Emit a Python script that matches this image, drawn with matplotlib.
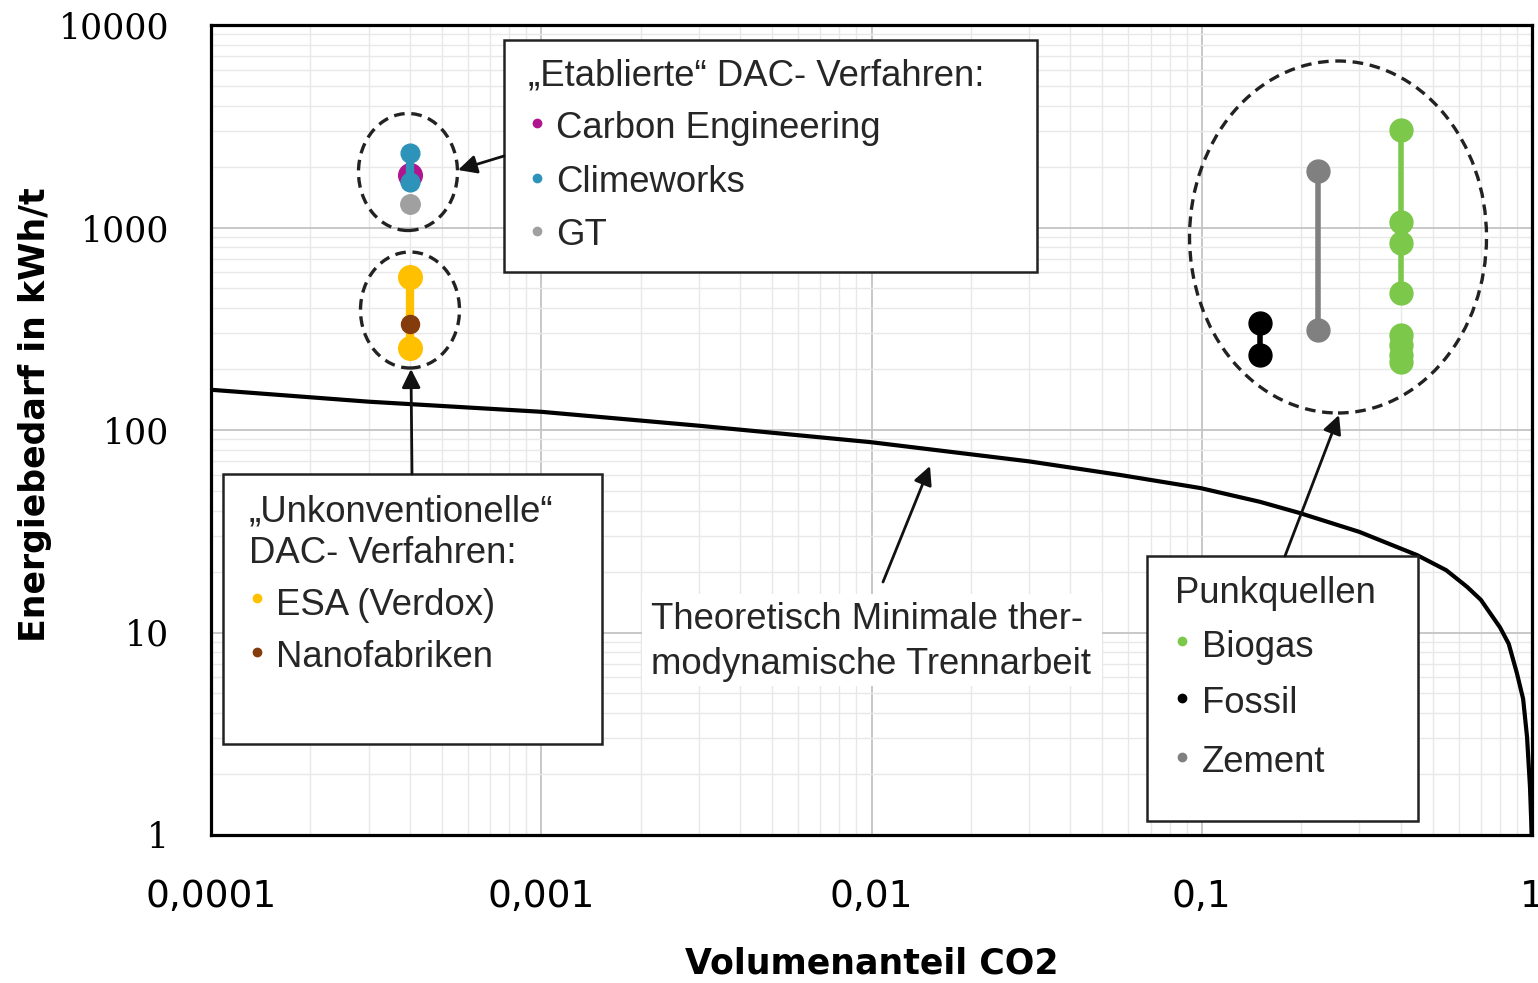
import matplotlib
matplotlib.use('Agg')
import matplotlib.pyplot as plt
from matplotlib import font_manager
from matplotlib.patches import Ellipse, Rectangle
from matplotlib.ticker import LogLocator, NullFormatter, FixedLocator, FixedFormatter

# --- data ---
x_ticks = [1e-4, 1e-3, 1e-2, 1e-1, 1]
x_tick_labels = ['0,0001', '0,001', '0,01', '0,1', '1']
y_ticks = [1, 10, 100, 1000, 10000]
y_tick_labels = ['1', '10', '100', '1000', '10000']

# theoretical minimum separation work
curve_x = [0.0001, 0.0003, 0.001, 0.003, 0.01, 0.03, 0.0565, 0.0989, 0.15,
           0.198, 0.30, 0.449, 0.55, 0.636, 0.70, 0.80, 0.85, 0.90, 0.94,
           0.966, 0.986, 0.994, 0.999]
curve_y = [158, 138, 123, 105, 87, 70, 60, 51.7, 44.2,
           38.9, 31.4, 24.1, 20.3, 16.8, 14.5, 10.6, 8.8, 6.3, 4.7,
           3.05, 1.73, 1.2, 0.9]

dac_x = 0.0004
gt_y = [1300]
carbon_eng_y = [1820]
climeworks_y = [2330, 1680]
esa_y = [570, 255]
nano_y = [335]

fossil_x = 0.15
fossil_y = [338, 235]
zement_x = 0.225
zement_y = [1900, 312]
biogas_x = 0.40
biogas_upper_y = [3030, 1063, 840, 475]
biogas_lower_y = [294, 263, 235, 217]

col_ce = '#B0158F'
col_cw = '#2E93B8'
col_gt = '#A0A0A0'
col_esa = '#FFC000'
col_nano = '#843C0C'
col_bio = '#7CC84A'
col_fossil = '#000000'
col_zement = '#808080'

installed = {f.name for f in font_manager.fontManager.ttflist}
narrow = 'Liberation Sans Narrow' if 'Liberation Sans Narrow' in installed else 'DejaVu Sans'
sans = 'Liberation Sans'
serif = 'DejaVu Serif'

W, H = 1538, 983
AX_L, AX_R, AX_T, AX_B = 211, 1532, 25, 835

def af(px, py):
    # image pixel (top-left origin) -> axes fraction
    return ((px - AX_L) / (AX_R - AX_L), (AX_B - py) / (AX_B - AX_T))

fig = plt.figure(figsize=(W / 100, H / 100), dpi=100)
ax = fig.add_axes([AX_L / W, 1 - AX_B / H, (AX_R - AX_L) / W, (AX_B - AX_T) / H])
ax.set_xscale('log')
ax.set_yscale('log')
ax.set_xlim(1e-4, 1)
ax.set_ylim(1, 10000)

ax.xaxis.set_major_locator(FixedLocator(x_ticks))
ax.xaxis.set_major_formatter(FixedFormatter(x_tick_labels))
ax.yaxis.set_major_locator(FixedLocator(y_ticks))
ax.yaxis.set_major_formatter(FixedFormatter(y_tick_labels))
ax.xaxis.set_minor_locator(LogLocator(base=10, subs=range(2, 10), numticks=20))
ax.yaxis.set_minor_locator(LogLocator(base=10, subs=range(2, 10), numticks=20))
ax.xaxis.set_minor_formatter(NullFormatter())
ax.yaxis.set_minor_formatter(NullFormatter())
ax.tick_params(which='both', length=0)
ax.tick_params(axis='x', pad=32, labelsize=27)
ax.tick_params(axis='y', pad=30, labelsize=25)
for lab in ax.get_xticklabels():
    lab.set_fontfamily(narrow)
for lab in ax.get_yticklabels():
    lab.set_fontfamily(serif)

ax.set_axisbelow(True)
ax.grid(which='major', color='#c4c4c4', linewidth=1.3)
ax.grid(which='minor', color='#e8e8e8', linewidth=1.0)
for sp in ax.spines.values():
    sp.set_linewidth(2.3)
    sp.set_color('black')

# theoretical curve
ax.plot(curve_x, curve_y, color='black', lw=3.0, zorder=3, clip_on=True,
        solid_joinstyle='round')

# DAC markers
ax.plot([dac_x], gt_y, 'o', color=col_gt, ms=14, zorder=4)
ax.plot([dac_x], carbon_eng_y, 'o', color=col_ce, ms=17, zorder=4)
ax.plot([dac_x] * len(climeworks_y), climeworks_y, '-o', color=col_cw, ms=13.5, lw=6, zorder=5)
ax.plot([dac_x] * len(esa_y), esa_y, '-o', color=col_esa, ms=17, lw=6, zorder=4)
ax.plot([dac_x], nano_y, 'o', color=col_nano, ms=13, zorder=5)

# point sources
ax.plot([fossil_x] * len(fossil_y), fossil_y, '-o', color=col_fossil, ms=16.5, lw=4, zorder=4)
ax.plot([zement_x] * len(zement_y), zement_y, '-o', color=col_zement, ms=16.5, lw=4, zorder=4)
ax.plot([biogas_x] * len(biogas_upper_y), biogas_upper_y, '-o', color=col_bio, ms=16.5, lw=4, zorder=4)
ax.plot([biogas_x] * len(biogas_lower_y), biogas_lower_y, '-o', color=col_bio, ms=16.5, lw=4, zorder=4)

# dashed ellipses
dash = (0, (3.2, 2.0))
for cx, cy, w, h in [(408, 172, 99, 117), (410, 310, 99, 116), (1338, 237, 297, 352)]:
    c = af(cx, cy)
    ax.add_patch(Ellipse(c, w / (AX_R - AX_L), h / (AX_B - AX_T), transform=ax.transAxes,
                         fill=False, ec='#222222', lw=2.4, ls=dash, zorder=6))

# text boxes
def box(x0, y0, x1, y1, ec='#222222', lw=1.8):
    a = af(x0, y1)
    ax.add_patch(Rectangle(a, (x1 - x0) / (AX_R - AX_L), (y1 - y0) / (AX_B - AX_T),
                           transform=ax.transAxes, fc='white', ec=ec, lw=lw,
                           zorder=7, clip_on=False))

def txt(px, py, s, size=26.3):
    ax.text(*af(px, py), s, transform=ax.transAxes, fontsize=size, family=sans,
            color='#262626', va='baseline', ha='left', zorder=8, clip_on=False)

def bullet(px, py, color):
    ax.plot(*af(px, py), 'o', color=color, ms=6, transform=ax.transAxes,
            zorder=8, clip_on=False)

box(504, 40, 1037, 272)
txt(528, 86, '\u201eEtablierte\u201c DAC- Verfahren:')
bullet(537, 123, col_ce)
txt(556, 138, 'Carbon Engineering')
bullet(537, 178, col_cw)
txt(556, 192, 'Climeworks')
bullet(537, 231, col_gt)
txt(556, 245, 'GT')

box(223, 474, 602, 744)
txt(249, 522, '\u201eUnkonventionelle\u201c')
txt(249, 563, 'DAC- Verfahren:')
bullet(257, 598, col_esa)
txt(276, 615, 'ESA (Verdox)')
bullet(257, 652, col_nano)
txt(276, 667, 'Nanofabriken')

box(1147, 556, 1418, 821)
txt(1175, 603, 'Punkquellen')
bullet(1182, 641, col_bio)
txt(1202, 657, 'Biogas')
bullet(1182, 698, col_fossil)
txt(1202, 713, 'Fossil')
bullet(1182, 757, col_zement)
txt(1202, 772, 'Zement')

# label of the curve on a white patch
box(642, 594, 1102, 686, ec='none', lw=0)
txt(651, 629, 'Theoretisch Minimale ther-')
txt(651, 674, 'modynamische Trennarbeit')

# arrows
for tail, head in [((504, 156), (458, 170)), ((412, 474), (411, 369)),
                   ((883, 582), (930, 466)), ((1285, 556), (1339, 415))]:
    ax.annotate('', xy=af(*head), xytext=af(*tail), xycoords='axes fraction',
                textcoords='axes fraction',
                arrowprops=dict(arrowstyle='-|>', color='#111111', lw=2.0,
                                mutation_scale=28, shrinkA=0, shrinkB=0),
                zorder=9, annotation_clip=False)

fig.text(872 / W, 1 - 963 / H, 'Volumenanteil CO2', ha='center', va='center',
         fontsize=25, fontweight='bold', family=narrow)
fig.text(35 / W, 1 - 415 / H, 'Energiebedarf in kWh/t', ha='center', va='center',
         rotation=90, fontsize=25, fontweight='bold', family=narrow)

fig.savefig('out.png', dpi=100, facecolor='white')
